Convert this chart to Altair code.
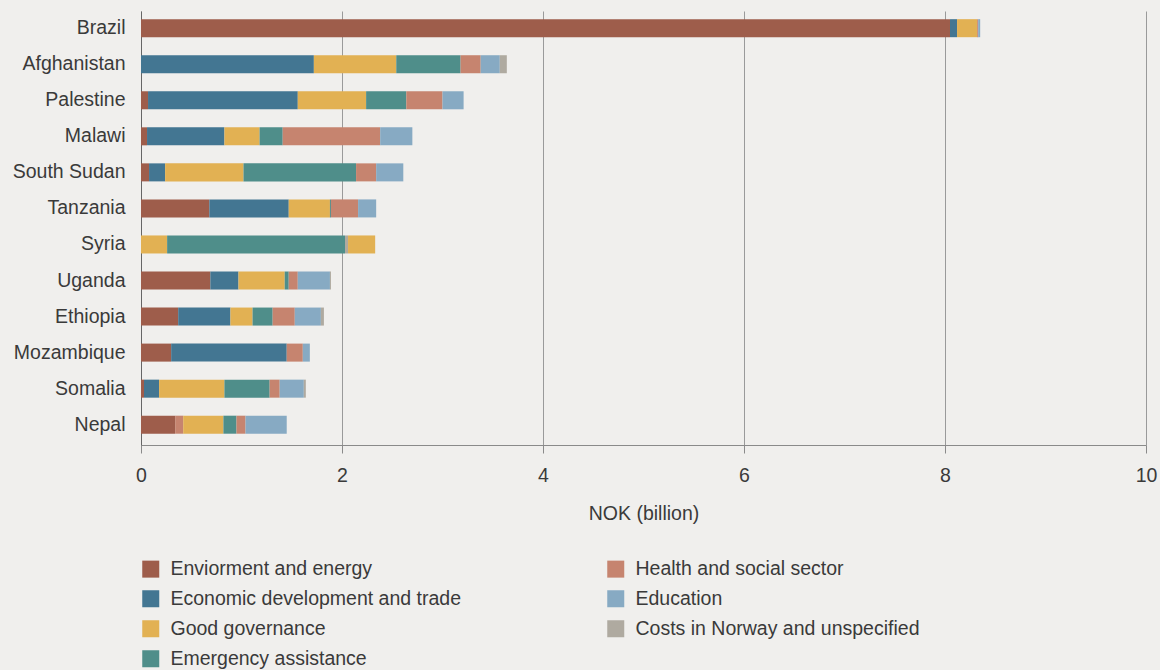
import altair as alt
import pandas as pd

# Sector names (legend text kept as published)
ENV = "Enviorment and energy"
ECON = "Economic development and trade"
GOV = "Good governance"
EMERG = "Emergency assistance"
HEALTH = "Health and social sector"
EDU = "Education"
COSTS = "Costs in Norway and unspecified"

# Legend order (filled column by column)
legend_order = [ENV, ECON, GOV, EMERG, HEALTH, EDU, COSTS]
legend_colors = ["#9E5D4B", "#437692", "#E2B153", "#4F8E8A", "#C6846F", "#87AAC3", "#AFAAA0"]

countries = ["Brazil", "Afghanistan", "Palestine", "Malawi", "South Sudan", "Tanzania",
             "Syria", "Uganda", "Ethiopia", "Mozambique", "Somalia", "Nepal"]

# Disbursements per sector, NOK billion, in stacking order
brazil = [(ENV, 8.05), (ECON, 0.07), (GOV, 0.20), (HEALTH, 0.01), (EDU, 0.02)]
afghanistan = [(ECON, 1.72), (GOV, 0.82), (EMERG, 0.64), (HEALTH, 0.20), (EDU, 0.19), (COSTS, 0.07)]
palestine = [(ENV, 0.07), (ECON, 1.49), (GOV, 0.68), (EMERG, 0.40), (HEALTH, 0.36), (EDU, 0.21)]
malawi = [(ENV, 0.06), (ECON, 0.77), (GOV, 0.35), (EMERG, 0.23), (HEALTH, 0.97), (EDU, 0.32)]
south_sudan = [(ENV, 0.08), (ECON, 0.16), (GOV, 0.78), (EMERG, 1.12), (HEALTH, 0.20), (EDU, 0.27)]
tanzania = [(ENV, 0.68), (ECON, 0.79), (GOV, 0.41), (EMERG, 0.01), (HEALTH, 0.27), (EDU, 0.18)]
syria = [(GOV, 0.26), (EMERG, 1.77), (COSTS, 0.03), (GOV, 0.27)]
uganda = [(ENV, 0.69), (ECON, 0.28), (GOV, 0.46), (EMERG, 0.04), (HEALTH, 0.09), (EDU, 0.32), (COSTS, 0.01)]
ethiopia = [(ENV, 0.37), (ECON, 0.52), (GOV, 0.22), (EMERG, 0.20), (HEALTH, 0.22), (EDU, 0.26), (COSTS, 0.03)]
mozambique = [(ENV, 0.30), (ECON, 1.15), (HEALTH, 0.16), (EDU, 0.07)]
somalia = [(ENV, 0.03), (ECON, 0.15), (GOV, 0.65), (EMERG, 0.45), (HEALTH, 0.10), (EDU, 0.24), (COSTS, 0.02)]
nepal = [(ENV, 0.34), (HEALTH, 0.08), (GOV, 0.40), (EMERG, 0.13), (HEALTH, 0.09), (EDU, 0.41)]

segments = [brazil, afghanistan, palestine, malawi, south_sudan, tanzania,
            syria, uganda, ethiopia, mozambique, somalia, nepal]

x_ticks = [0, 2, 4, 6, 8, 10]

rows = []
for country, parts in zip(countries, segments):
    for i, (sector, value) in enumerate(parts):
        rows.append({"country": country, "sector": sector, "value": value, "seg": i})
df = pd.DataFrame(rows)

FONT = "Liberation Sans"
TEXT = "#3a3a3a"
FS = 19.5

chart = (
    alt.Chart(df)
    .mark_bar()
    .encode(
        x=alt.X(
            "value:Q",
            stack="zero",
            scale=alt.Scale(domain=[0, 10], nice=False),
            axis=alt.Axis(
                values=x_ticks,
                title="NOK (billion)",
                grid=True,
                gridColor="#9a9a9a",
                gridWidth=1,
                domainColor="#8a8a8a",
                tickColor="#8a8a8a",
                tickSize=8,
                labelFlush=False,
                labelPadding=13,
                titlePadding=20,
                labelFontSize=FS,
                titleFontSize=FS,
                titleFontWeight="normal",
                labelColor=TEXT,
                titleColor=TEXT,
                labelFont=FONT,
                titleFont=FONT,
            ),
        ),
        y=alt.Y(
            "country:N",
            sort=countries,
            scale=alt.Scale(paddingInner=0.5, paddingOuter=0.27, align=0.42),
            axis=alt.Axis(
                title=None,
                ticks=False,
                domain=True,
                domainColor="#666666",
                labelPadding=16,
                labelFontSize=FS,
                labelColor=TEXT,
                labelFont=FONT,
            ),
        ),
        color=alt.Color(
            "sector:N",
            scale=alt.Scale(domain=legend_order, range=legend_colors),
            legend=alt.Legend(
                title=None,
                orient="none",
                legendX=0,
                legendY=548,
                columns=2,
                columnPadding=144,
                rowPadding=9,
                symbolType="square",
                symbolSize=289,
                symbolStrokeWidth=0,
                symbolOpacity=1,
                labelOffset=10,
                labelFontSize=FS,
                labelColor=TEXT,
                labelFont=FONT,
                labelLimit=400,
                padding=0,
            ),
        ),
        order=alt.Order("seg:Q"),
    )
    .properties(
        width=1005,
        height=434,
        background="#F0EFED",
        padding={"left": 141, "top": 11, "right": 14, "bottom": 225},
        autosize=alt.AutoSizeParams(type="none"),
    )
    .configure_view(stroke=None)
)

chart.save("out.html", embed_options={"renderer": "svg", "actions": False})
